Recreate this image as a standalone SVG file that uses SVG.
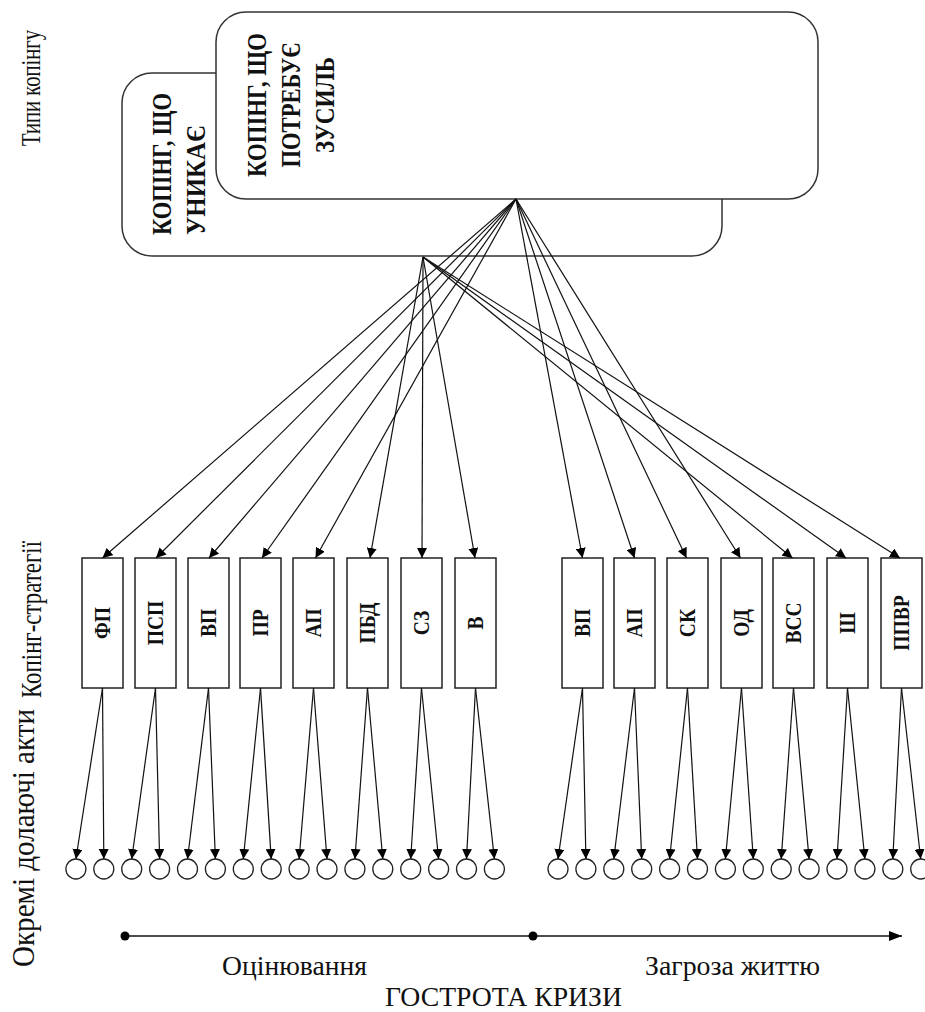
<svg xmlns="http://www.w3.org/2000/svg" width="925" height="1012" viewBox="0 0 925 1012">
<style>
.t{font-family:"Liberation Serif","Times New Roman",serif;fill:#111}
.b{font-weight:bold}
.rb{fill:#fff;stroke:#333;stroke-width:1.5}
.sb{fill:#fff;stroke:#222;stroke-width:1.5}
.c{fill:#fff;stroke:#222;stroke-width:1.3}
.ln{stroke:#111;stroke-width:1.2;fill:none}
</style>
<defs>
<marker id="ah" viewBox="0 0 10 10" refX="10" refY="5" markerWidth="10" markerHeight="10" markerUnits="userSpaceOnUse" orient="auto"><path d="M0,0 L10,5 L0,10 z" fill="#000"/></marker>
<marker id="ax" viewBox="0 0 13 10" refX="13" refY="5" markerWidth="13" markerHeight="10" markerUnits="userSpaceOnUse" orient="auto"><path d="M0,0 L13,5 L0,10 z" fill="#000"/></marker>
</defs>
<rect width="925" height="1012" fill="#fff"/>

<g id="labels">
<text class="t" font-size="21.5" transform="translate(40,146) rotate(-90) scale(1,1.3)" textLength="116" lengthAdjust="spacingAndGlyphs">Типи копінгу</text>
<text class="t" font-size="29" transform="translate(41,698) rotate(-90)" textLength="157" lengthAdjust="spacingAndGlyphs">Копінг-стратегії</text>
<text class="t" font-size="32" transform="translate(34,967) rotate(-90)" textLength="258" lengthAdjust="spacingAndGlyphs">Окремі долаючі акти</text>
</g>

<g id="type-avoid">
<rect class="rb" x="122" y="73" width="600" height="183" rx="30"/>
<text class="t b" font-size="27" transform="translate(171,235) rotate(-90)" textLength="142" lengthAdjust="spacingAndGlyphs">КОПІНГ, ЩО</text>
<text class="t b" font-size="27" transform="translate(205,235) rotate(-90)" textLength="110" lengthAdjust="spacingAndGlyphs">УНИКАЄ</text>
</g>

<g id="type-effort">
<rect class="rb" x="216" y="12" width="602" height="187" rx="30"/>
<text class="t b" font-size="27" text-anchor="middle" transform="translate(266,105) rotate(-90)" textLength="144" lengthAdjust="spacingAndGlyphs">КОПІНГ, ЩО</text>
<text class="t b" font-size="27" text-anchor="middle" transform="translate(300,105) rotate(-90)" textLength="125" lengthAdjust="spacingAndGlyphs">ПОТРЕБУЄ</text>
<text class="t b" font-size="27" text-anchor="middle" transform="translate(334,105) rotate(-90)" textLength="96" lengthAdjust="spacingAndGlyphs">ЗУСИЛЬ</text>
</g>

<g id="strategies" class="t b" font-size="23" text-anchor="middle">
<g id="s-fp"><rect class="sb" x="82" y="558" width="41" height="130"/><text transform="translate(110,623) rotate(-90) scale(0.85,1)">ФП</text></g>
<g id="s-psp"><rect class="sb" x="135" y="558" width="41" height="130"/><text transform="translate(163,623) rotate(-90) scale(0.85,1)">ПСП</text></g>
<g id="s-vp1"><rect class="sb" x="188" y="558" width="41" height="130"/><text transform="translate(216,623) rotate(-90) scale(0.85,1)">ВП</text></g>
<g id="s-pr"><rect class="sb" x="240" y="558" width="41" height="130"/><text transform="translate(268,623) rotate(-90) scale(0.85,1)">ПР</text></g>
<g id="s-ap1"><rect class="sb" x="293" y="558" width="41" height="130"/><text transform="translate(321,623) rotate(-90) scale(0.85,1)">АП</text></g>
<g id="s-pbd"><rect class="sb" x="347" y="558" width="41" height="130"/><text transform="translate(375,623) rotate(-90) scale(0.85,1)">ПБД</text></g>
<g id="s-sz"><rect class="sb" x="401" y="558" width="41" height="130"/><text transform="translate(429,623) rotate(-90) scale(0.85,1)">СЗ</text></g>
<g id="s-v"><rect class="sb" x="455" y="558" width="41" height="130"/><text transform="translate(483,623) rotate(-90) scale(0.85,1)">В</text></g>
<g id="s-vp2"><rect class="sb" x="562" y="558" width="41" height="130"/><text transform="translate(590,623) rotate(-90) scale(0.85,1)">ВП</text></g>
<g id="s-ap2"><rect class="sb" x="614" y="558" width="41" height="130"/><text transform="translate(642,623) rotate(-90) scale(0.85,1)">АП</text></g>
<g id="s-sk"><rect class="sb" x="667" y="558" width="41" height="130"/><text transform="translate(695,623) rotate(-90) scale(0.85,1)">СК</text></g>
<g id="s-od"><rect class="sb" x="721" y="558" width="41" height="130"/><text transform="translate(749,623) rotate(-90) scale(0.85,1)">ОД</text></g>
<g id="s-vss"><rect class="sb" x="773" y="558" width="41" height="130"/><text transform="translate(801,623) rotate(-90) scale(0.85,1)">ВСС</text></g>
<g id="s-sh"><rect class="sb" x="827" y="558" width="41" height="130"/><text transform="translate(855,623) rotate(-90) scale(0.85,1)">Ш</text></g>
<g id="s-ppvr"><rect class="sb" x="881" y="558" width="41" height="130"/><text transform="translate(909,623) rotate(-90) scale(0.85,1)">ППВР</text></g>
</g>

<g id="acts">
<circle class="c" cx="75.9" cy="869" r="10"/><circle class="c" cx="103.8" cy="869" r="10"/>
<circle class="c" cx="131.7" cy="869" r="10"/><circle class="c" cx="159.6" cy="869" r="10"/>
<circle class="c" cx="187.5" cy="869" r="10"/><circle class="c" cx="215.4" cy="869" r="10"/>
<circle class="c" cx="243.3" cy="869" r="10"/><circle class="c" cx="271.2" cy="869" r="10"/>
<circle class="c" cx="299.1" cy="869" r="10"/><circle class="c" cx="327" cy="869" r="10"/>
<circle class="c" cx="354.9" cy="869" r="10"/><circle class="c" cx="382.8" cy="869" r="10"/>
<circle class="c" cx="410.7" cy="869" r="10"/><circle class="c" cx="438.6" cy="869" r="10"/>
<circle class="c" cx="466.5" cy="869" r="10"/><circle class="c" cx="494.4" cy="869" r="10"/>
<circle class="c" cx="558" cy="869" r="10"/><circle class="c" cx="585.9" cy="869" r="10"/>
<circle class="c" cx="613.8" cy="869" r="10"/><circle class="c" cx="641.7" cy="869" r="10"/>
<circle class="c" cx="669.6" cy="869" r="10"/><circle class="c" cx="697.5" cy="869" r="10"/>
<circle class="c" cx="725.4" cy="869" r="10"/><circle class="c" cx="753.3" cy="869" r="10"/>
<circle class="c" cx="781.2" cy="869" r="10"/><circle class="c" cx="809.1" cy="869" r="10"/>
<circle class="c" cx="837" cy="869" r="10"/><circle class="c" cx="864.9" cy="869" r="10"/>
<circle class="c" cx="892.8" cy="869" r="10"/><circle class="c" cx="920.7" cy="869" r="10"/>
</g>

<g id="connectors" class="ln" marker-end="url(#ah)">
<line x1="516" y1="199" x2="102.5" y2="558"/>
<line x1="516" y1="199" x2="156" y2="558"/>
<line x1="516" y1="199" x2="209" y2="558"/>
<line x1="516" y1="199" x2="262" y2="558"/>
<line x1="516" y1="199" x2="315.5" y2="558"/>
<line x1="516" y1="199" x2="582.5" y2="558"/>
<line x1="516" y1="199" x2="634.5" y2="558"/>
<line x1="516" y1="199" x2="686.5" y2="558"/>
<line x1="516" y1="199" x2="740.5" y2="558"/>
<line x1="423" y1="257" x2="370" y2="558"/>
<line x1="423" y1="257" x2="422" y2="558"/>
<line x1="423" y1="257" x2="475" y2="558"/>
<line x1="423" y1="257" x2="792.5" y2="558"/>
<line x1="423" y1="257" x2="846" y2="558"/>
<line x1="423" y1="257" x2="900" y2="558"/>

<line x1="102.5" y1="688" x2="75.9" y2="859"/><line x1="102.5" y1="688" x2="103.8" y2="859"/>
<line x1="155.5" y1="688" x2="131.7" y2="859"/><line x1="155.5" y1="688" x2="159.6" y2="859"/>
<line x1="208.5" y1="688" x2="187.5" y2="859"/><line x1="208.5" y1="688" x2="215.4" y2="859"/>
<line x1="260.5" y1="688" x2="243.3" y2="859"/><line x1="260.5" y1="688" x2="271.2" y2="859"/>
<line x1="313.5" y1="688" x2="299.1" y2="859"/><line x1="313.5" y1="688" x2="327" y2="859"/>
<line x1="367.5" y1="688" x2="354.9" y2="859"/><line x1="367.5" y1="688" x2="382.8" y2="859"/>
<line x1="421.5" y1="688" x2="410.7" y2="859"/><line x1="421.5" y1="688" x2="438.6" y2="859"/>
<line x1="475.5" y1="688" x2="466.5" y2="859"/><line x1="475.5" y1="688" x2="494.4" y2="859"/>
<line x1="582.5" y1="688" x2="558" y2="859"/><line x1="582.5" y1="688" x2="585.9" y2="859"/>
<line x1="634.5" y1="688" x2="613.8" y2="859"/><line x1="634.5" y1="688" x2="641.7" y2="859"/>
<line x1="687.5" y1="688" x2="669.6" y2="859"/><line x1="687.5" y1="688" x2="697.5" y2="859"/>
<line x1="741.5" y1="688" x2="725.4" y2="859"/><line x1="741.5" y1="688" x2="753.3" y2="859"/>
<line x1="793.5" y1="688" x2="781.2" y2="859"/><line x1="793.5" y1="688" x2="809.1" y2="859"/>
<line x1="847.5" y1="688" x2="837" y2="859"/><line x1="847.5" y1="688" x2="864.9" y2="859"/>
<line x1="901.5" y1="688" x2="892.8" y2="859"/><line x1="901.5" y1="688" x2="920.7" y2="859"/>
</g>

<g id="axis">
<line x1="125" y1="936" x2="902" y2="936" stroke="#111" stroke-width="1.5" marker-end="url(#ax)"/>
<circle cx="125" cy="936" r="4.5" fill="#000"/>
<circle cx="533" cy="936" r="4.5" fill="#000"/>
<text class="t" font-size="28" x="222" y="975" textLength="145" lengthAdjust="spacingAndGlyphs">Оцінювання</text>
<text class="t" font-size="28" x="645" y="975" textLength="175" lengthAdjust="spacingAndGlyphs">Загроза життю</text>
<text class="t" font-size="28" x="385" y="1006" textLength="237" lengthAdjust="spacingAndGlyphs">ГОСТРОТА КРИЗИ</text>
</g>
</svg>
